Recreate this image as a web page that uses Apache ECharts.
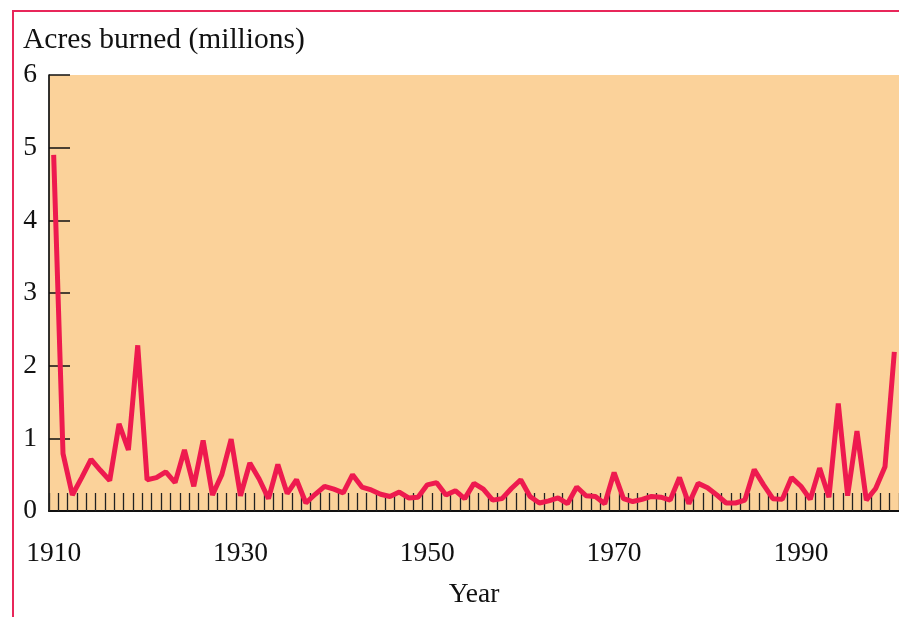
<!DOCTYPE html>
<html>
<head>
<meta charset="utf-8">
<script src="https://cdn.jsdelivr.net/npm/echarts@6/dist/echarts.min.js"></script>
<style>
  html, body { margin: 0; padding: 0; background: #fff; }
  #main { width: 899px; height: 617px; }
</style>
</head>
<body>
<div id="main"></div>
<script>
  // years on the x axis, one category per year
  var years = [];
  for (var y = 1910; y <= 2000; y++) years.push(String(y));

  // acres burned, millions
  var acres = [
    4.9, 0.79, 0.22, 0.46, 0.71, 0.56, 0.42, 1.2, 0.84, 2.28,
    0.43, 0.46, 0.54, 0.39, 0.84, 0.34, 0.97, 0.22, 0.5, 0.99,
    0.21, 0.66, 0.44, 0.17, 0.64, 0.24, 0.43, 0.11, 0.23, 0.34,
    0.3, 0.25, 0.5, 0.33, 0.29, 0.23, 0.2, 0.26, 0.18, 0.19,
    0.36, 0.39, 0.22, 0.28, 0.17, 0.38, 0.3, 0.15, 0.17, 0.31,
    0.43, 0.2, 0.11, 0.14, 0.18, 0.1, 0.33, 0.21, 0.2, 0.1,
    0.53, 0.17, 0.13, 0.16, 0.2, 0.19, 0.15, 0.46, 0.1, 0.38,
    0.32, 0.22, 0.11, 0.11, 0.15, 0.57, 0.36, 0.17, 0.16, 0.46,
    0.34, 0.16, 0.59, 0.19, 1.48, 0.21, 1.1, 0.15, 0.31, 0.61,
    2.19
  ];

  var serif = "'Liberation Serif', 'DejaVu Serif', serif";

  var chart = echarts.init(document.getElementById('main'));
  chart.setOption({
    animation: false,
    backgroundColor: '#fff',
    title: {
      text: 'Acres burned (millions)',
      left: 23,
      top: 25,
      padding: 0,
      textStyle: { fontFamily: serif, fontSize: 29.5, fontWeight: 'normal', color: '#111' }
    },
    graphic: [{
      type: 'rect',
      shape: { x: 13, y: 11, width: 1000, height: 1000 },
      style: { fill: 'none', stroke: '#e8265a', lineWidth: 2 },
      silent: true
    }],
    grid: {
      left: 49, top: 75, right: -2, bottom: 106,
      show: true, backgroundColor: '#fbd29a', borderWidth: 0
    },
    xAxis: {
      type: 'category',
      data: years,
      boundaryGap: true,
      name: 'Year',
      nameLocation: 'middle',
      nameGap: 70,
      nameTextStyle: { fontFamily: serif, fontSize: 27.5, color: '#111' },
      axisLine: { lineStyle: { color: '#111', width: 2 } },
      axisTick: { show: true, inside: true, length: 18, interval: 0, lineStyle: { color: '#222', width: 1.3 } },
      axisLabel: { interval: 19, margin: 29, fontFamily: serif, fontSize: 27.5, color: '#111' },
      splitLine: { show: false }
    },
    yAxis: {
      type: 'value',
      min: 0, max: 6, interval: 1,
      axisLine: { show: true, lineStyle: { color: '#111', width: 1.7 } },
      axisTick: { show: true, inside: true, length: 21, lineStyle: { color: '#111', width: 1.5 } },
      axisLabel: { margin: 12, fontFamily: serif, fontSize: 27.5, color: '#111' },
      splitLine: { show: false }
    },
    series: [{
      type: 'line',
      data: acres,
      symbol: 'none',
      smooth: false,
      lineStyle: { color: '#ee1a4f', width: 5 }
    }]
  });
</script>
</body>
</html>
